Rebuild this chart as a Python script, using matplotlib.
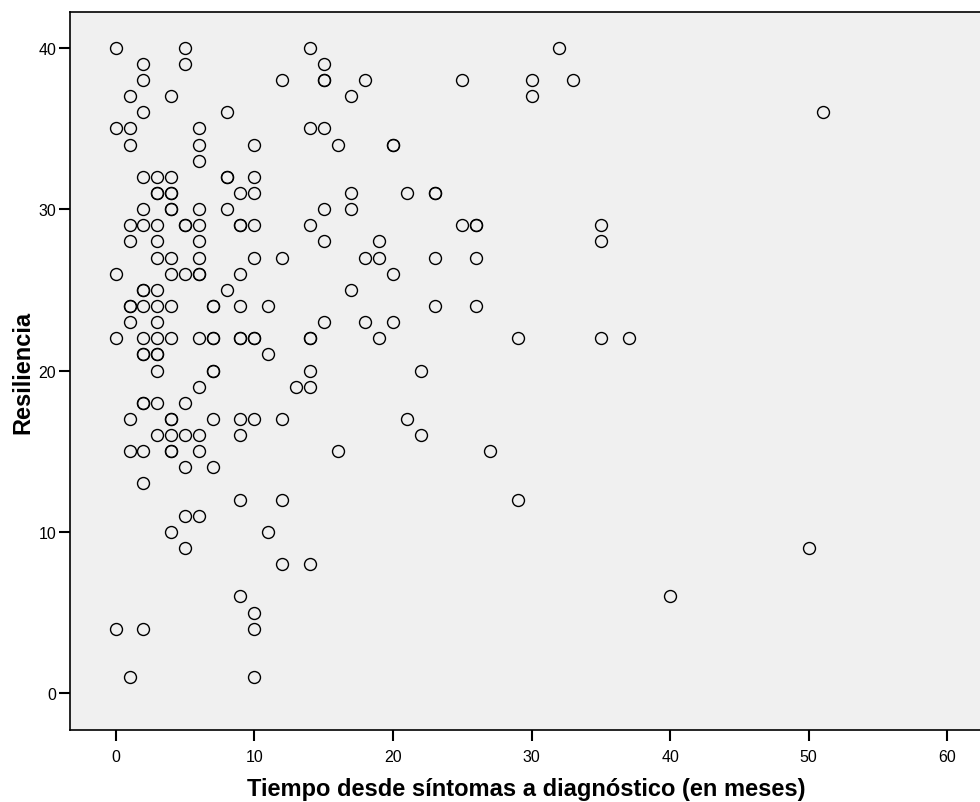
import matplotlib
matplotlib.use("Agg")
import matplotlib.pyplot as plt

plt.rcParams['font.family'] = ['Liberation Sans', 'DejaVu Sans']

# Resilience score -> months from symptoms to diagnosis (one entry per case)
resiliencia_niveles = [40, 39, 38, 37, 36, 35, 34, 33, 32, 31, 30, 29, 28, 27, 26, 25,
                       24, 23, 22, 21, 20, 19, 18, 17, 16, 15, 14, 13, 12, 11, 10, 9,
                       8, 6, 5, 4, 1]
meses_por_nivel = [
    [0, 5, 14, 32],
    [2, 5, 15],
    [2, 12, 15, 15, 18, 25, 30, 33],
    [1, 4, 17, 30],
    [2, 8, 51],
    [0, 1, 6, 14, 15],
    [1, 6, 10, 16, 20, 20],
    [6],
    [2, 3, 4, 8, 8, 10],
    [3, 3, 4, 4, 9, 10, 17, 21, 23, 23],
    [2, 4, 4, 6, 8, 15, 17],
    [1, 2, 3, 5, 5, 6, 9, 9, 10, 14, 25, 26, 26, 35],
    [1, 3, 6, 15, 19, 35],
    [3, 4, 6, 10, 12, 18, 19, 23, 26],
    [0, 4, 5, 6, 6, 9, 20],
    [2, 2, 3, 8, 17],
    [1, 1, 2, 3, 4, 7, 7, 9, 11, 23, 26],
    [1, 3, 15, 18, 20],
    [0, 2, 3, 4, 6, 7, 7, 9, 9, 10, 10, 14, 14, 19, 29, 35, 37],
    [2, 2, 3, 3, 11],
    [3, 7, 7, 14, 22],
    [6, 13, 14],
    [2, 2, 3, 5],
    [1, 4, 4, 7, 9, 10, 12, 21],
    [3, 4, 5, 6, 9, 22],
    [1, 2, 4, 4, 6, 16, 27],
    [5, 7],
    [2],
    [9, 12, 29],
    [5, 6],
    [4, 11],
    [5, 50],
    [12, 14],
    [9, 40],
    [10],
    [0, 2, 10],
    [1, 10],
]

tiempo = []
resiliencia = []
for nivel, meses in zip(resiliencia_niveles, meses_por_nivel):
    for m in meses:
        tiempo.append(m)
        resiliencia.append(nivel)

x_ticks = [0, 10, 20, 30, 40, 50, 60]
y_ticks = [0, 10, 20, 30, 40]

fig = plt.figure(figsize=(9.8, 8.03), dpi=100)
ax = fig.add_axes([70 / 980, 72.3 / 803, 912 / 980, 717.4 / 803])
ax.set_facecolor('#F0F0F0')

ax.plot(tiempo, resiliencia, linestyle='none', marker='o', markersize=8.6,
        markerfacecolor='none', markeredgecolor='black', markeredgewidth=1.0)

ax.set_xlim(-3.3, 62.5)
ax.set_ylim(-2.26, 42.2)
ax.set_xticks(x_ticks)
ax.set_yticks(y_ticks)
ax.tick_params(axis='both', direction='out', length=8, width=1.5,
               labelsize=11.5, colors='black')
ax.tick_params(axis='x', pad=6)
ax.tick_params(axis='y', pad=2)

for side in ['left', 'bottom', 'top', 'right']:
    ax.spines[side].set_linewidth(1.2)
    ax.spines[side].set_color('black')

ax.set_xlabel('Tiempo desde síntomas a diagnóstico (en meses)',
              fontsize=17, fontweight='bold', labelpad=9)
ax.set_ylabel('Resiliencia', fontsize=17, fontweight='bold', labelpad=3)

fig.savefig('out.png', dpi=100, facecolor='white')
